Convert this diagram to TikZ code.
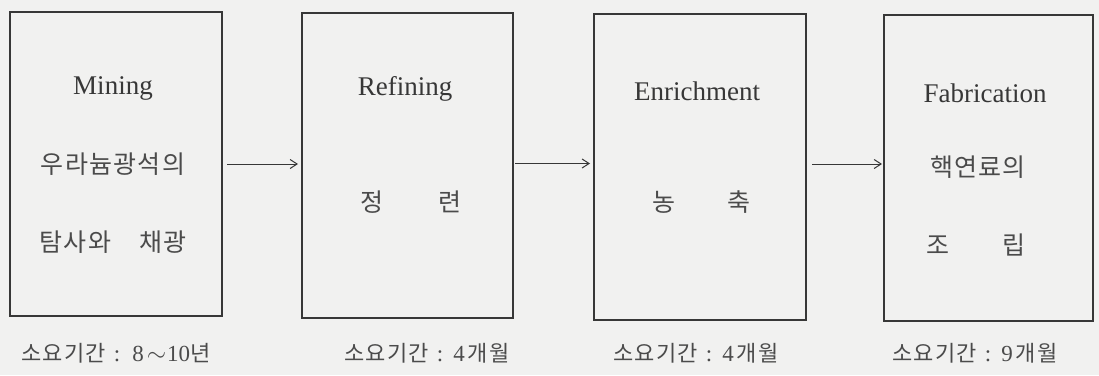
\documentclass[tikz,border=0pt]{standalone}
\usepackage{fontspec}
\setmainfont{Liberation Serif}
\newfontfamily\kr[LetterSpace=5]{Noto Sans CJK KR}
\usetikzlibrary{arrows.meta}
\definecolor{paper}{RGB}{241,241,240}
\definecolor{ink}{RGB}{55,55,55}
\definecolor{krink}{RGB}{75,75,75}
\begin{document}
\begin{tikzpicture}[x=1pt,y=-1pt,
  stagebox/.style={draw=ink,line width=1.2pt,inner sep=0pt,outer sep=0pt},
  entext/.style={text=ink,font=\fontsize{27}{30}\selectfont,inner sep=0pt},
  krtext/.style={text=krink,font=\kr\fontsize{25}{28}\selectfont,inner sep=0pt},
  lbtext/.style={text=krink,font=\fontsize{23}{26}\selectfont,inner sep=0pt},
  krlb/.style={},
  arr/.style={draw=ink,line width=1pt,-{Straight Barb[length=7pt,width=9pt]}}]
\fill[paper] (0,0) rectangle (1099,375);
\useasboundingbox (0,0) rectangle (1099,375);
% boxes
\node[stagebox,minimum width=212pt,minimum height=304pt] (b1) at (116,164) {};
\node[stagebox,minimum width=211pt,minimum height=305pt] (b2) at (407.5,165.5) {};
\node[stagebox,minimum width=212pt,minimum height=306pt] (b3) at (700,167) {};
\node[stagebox,minimum width=209pt,minimum height=306pt] (b4) at (988.5,168) {};
% box texts
\node[entext] (m1) at (113,88) {Mining};
\node[krtext] (m2) at (113,164) {우라늄광석의};
\node[krtext] (m3) at (113,242) {탐사와\hspace{28pt}채광};
\node[entext] (r1) at (405,89) {Refining};
\node[krtext] (r2) at (411,202) {정\hspace{55pt}련};
\node[entext] (e1) at (697,91) {Enrichment};
\node[krtext] (e2) at (701,202) {농\hspace{52pt}축};
\node[entext] (f1) at (985,93) {Fabrication};
\node[krtext] (f2) at (978,167) {핵연료의};
\node[krtext] (f3) at (976,245) {조\hspace{53pt}립};
% labels
\node[lbtext] (l1) at (116,353) {{\kr\fontsize{22}{26}\selectfont 소요기간}\hspace{8pt}:\hspace{12pt}8\hspace{3pt}$\sim$\hspace{1pt}10{\kr\fontsize{22}{26}\selectfont 년}};
\node[lbtext] (l2) at (427,353) {{\kr\fontsize{22}{26}\selectfont 소요기간}\hspace{8pt}:\hspace{10pt}4\hspace{3pt}{\kr\fontsize{22}{26}\selectfont 개월}};
\node[lbtext] (l3) at (696,353) {{\kr\fontsize{22}{26}\selectfont 소요기간}\hspace{8pt}:\hspace{10pt}4\hspace{3pt}{\kr\fontsize{22}{26}\selectfont 개월}};
\node[lbtext] (l4) at (975,353) {{\kr\fontsize{22}{26}\selectfont 소요기간}\hspace{8pt}:\hspace{10pt}9\hspace{3pt}{\kr\fontsize{22}{26}\selectfont 개월}};
% arrows
\draw[arr,shorten <=5pt,shorten >=4pt] (b1.east) -- (b1.east -| b2.west);
\draw[arr,shorten <=2pt,shorten >=4pt] ([yshift=2pt]b2.east) -- ([yshift=2pt]b2.east -| b3.west);
\draw[arr,shorten <=6pt,shorten >=2pt] ([yshift=3pt]b3.east) -- ([yshift=3pt]b3.east -| b4.west);
\end{tikzpicture}
\end{document}
